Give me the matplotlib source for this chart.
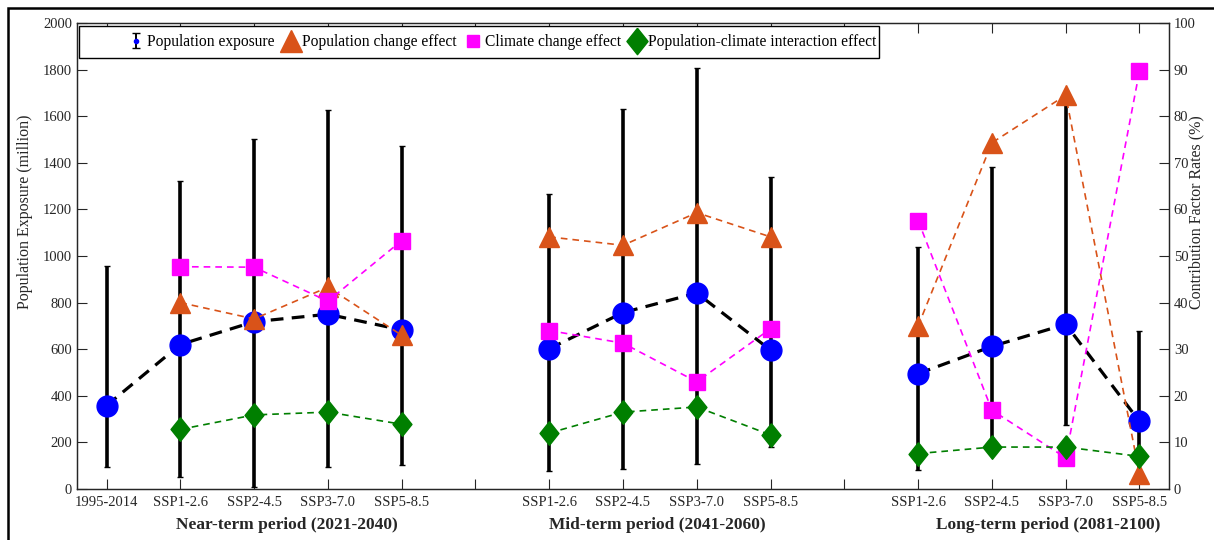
import matplotlib
matplotlib.use('Agg')
import matplotlib.pyplot as plt
import matplotlib.transforms as mtransforms
from matplotlib.lines import Line2D
from matplotlib.patches import Rectangle
import numpy as np

plt.rcParams['font.family'] = ['Liberation Serif', 'DejaVu Serif']

# categories
scenarios = ['SSP1-2.6', 'SSP2-4.5', 'SSP3-7.0', 'SSP5-8.5']
periods = ['Near-term period (2021-2040)', 'Mid-term period (2041-2060)',
           'Long-term period (2081-2100)']
baseline_label = '1995-2014'

# population exposure (million) -> left axis
baseline_exp = 358
baseline_low = 96
baseline_high = 955
exposure = [[620, 718, 750, 683], [602, 757, 841, 596], [495, 612, 707, 290]]
exp_low = [[52, 10, 93, 103], [76, 85, 107, 182], [82, 150, 275, 60]]
exp_high = [[1323, 1501, 1627, 1472], [1268, 1633, 1805, 1338], [1040, 1383, 1672, 676]]

# contribution factor rates (%) -> right axis
pop_effect = [[40, 36.5, 43.3, 33], [54.1, 52.3, 59.3, 54.1], [35, 74.3, 84.5, 3.2]]
clim_effect = [[47.7, 47.6, 40.3, 53.3], [34, 31.3, 23, 34.4], [57.6, 16.9, 6.7, 89.7]]
inter_effect = [[12.8, 15.9, 16.5, 13.9], [12, 16.5, 17.6, 11.6], [7.6, 9, 9, 7]]

c_pop = '#D95319'
c_clim = '#FF00FF'
c_int = '#007F00'
diamond = [(0, 1), (0.8, 0), (0, -1), (-0.8, 0), (0, 1)]

fig = plt.figure(figsize=(12.14, 5.40), dpi=100)
ax = fig.add_axes([77 / 1214, 51 / 540, 1092 / 1214, 466 / 540])
ax2 = ax.twinx()

x_base = 1
x_groups = [np.arange(4) + 2 + 5 * g for g in range(3)]

# baseline error bar
ax.errorbar([x_base], [baseline_exp],
            yerr=[[baseline_exp - baseline_low], [baseline_high - baseline_exp]],
            fmt='none', ecolor='k', elinewidth=2.6, capsize=2, zorder=2)

for g in range(3):
    xs = x_groups[g]
    vals = np.array(exposure[g])
    lo = vals - np.array(exp_low[g])
    hi = np.array(exp_high[g]) - vals
    ax.errorbar(xs, vals, yerr=[lo, hi], fmt='none', ecolor='k',
                elinewidth=2.6, capsize=2, zorder=2)
    if g == 0:
        # near-term line starts from the historical period
        lx = np.concatenate([[x_base], xs])
        ly = np.concatenate([[baseline_exp], vals])
    else:
        lx, ly = xs, vals
    ax.plot(lx, ly, color='k', lw=2.3, ls=(0, (4, 2.6)), zorder=3)
    ax.plot(xs, vals, 'o', ms=15, color='#0000FF', zorder=4)
ax.plot([x_base], [baseline_exp], 'o', ms=15, color='#0000FF', zorder=4)

# right axis series
for g in range(3):
    xs = x_groups[g]
    ax2.plot(xs, pop_effect[g], color=c_pop, lw=1.2, ls=(0, (4, 3)),
             marker='^', ms=15, mec=c_pop, mfc=c_pop)
    ax2.plot(xs, clim_effect[g], color=c_clim, lw=1.2, ls=(0, (4, 3)),
             marker='s', ms=12, mec=c_clim, mfc=c_clim)
    ax2.plot(xs, inter_effect[g], color=c_int, lw=1.2, ls=(0, (4, 3)),
             marker=diamond, ms=17, mec=c_int, mfc=c_int)

# axes
ax.set_xlim(0.6, 15.4)
ax.set_xticks(np.arange(1, 16))
ax.set_xticklabels([baseline_label] + scenarios + [''] + scenarios + [''] + scenarios)
ax.set_ylim(0, 2000)
ax.set_yticks(np.arange(0, 2001, 200))
ax2.set_ylim(0, 100)
ax2.set_yticks(np.arange(0, 101, 10))

axis_col = '#262626'
ax.tick_params(axis='x', direction='in', length=7, top=True, labelsize=10.5,
               colors=axis_col, pad=5)
ax.tick_params(axis='y', direction='in', length=7, right=False, labelsize=10.5,
               colors=axis_col)
ax2.tick_params(axis='y', direction='in', length=7, labelsize=10.5, colors=axis_col)
for a in (ax, ax2):
    for s in a.spines.values():
        s.set_color(axis_col)
        s.set_linewidth(0.9)

ax.set_ylabel('Population Exposure (million)', fontsize=11.5, color=axis_col)
ax2.set_ylabel('Contribution Factor Rates (%)', fontsize=11.5, color=axis_col)
ax.yaxis.set_label_coords(-0.04, 0.595)
ax2.yaxis.set_label_coords(1.0174, 0.595)

trans = mtransforms.blended_transform_factory(ax.transData, ax.transAxes)
label_centers = [3.45, 8.47, 13.76]
for xc, name in zip(label_centers, periods):
    ax.text(xc, -0.078, name, transform=trans, ha='center', va='center',
            fontsize=12.5, fontweight='bold', color=axis_col)

# legend: box drawn by hand, entries placed inside it
ax2.add_patch(Rectangle((0.0018, 0.925), 0.7326, 0.0686, transform=ax2.transAxes,
                        facecolor='white', edgecolor='k', lw=1.0, zorder=4.9,
                        clip_on=False))
eb = ax.errorbar([np.nan], [np.nan], yerr=[1], fmt='.', ms=6, color='#0000FF',
                 ecolor='k', elinewidth=1.4, capsize=3)
h_pop = Line2D([], [], ls='none', marker='^', ms=16, color=c_pop)
h_clim = Line2D([], [], ls='none', marker='s', ms=9, color=c_clim)
h_int = Line2D([], [], ls='none', marker=diamond, ms=19, color=c_int)
leg = ax2.legend([eb, h_pop, h_clim, h_int],
                 ['Population exposure', 'Population change effect',
                  'Climate change effect', 'Population-climate interaction effect'],
                 loc='center left', bbox_to_anchor=((124 - 77) / 1092, (489 - 42) / 466),
                 ncol=4, frameon=False, fontsize=11.2,
                 handlelength=1.5, handletextpad=0.0, columnspacing=0.27,
                 borderpad=0, borderaxespad=0)
leg.set_zorder(5)

# outer frame of the figure
fig.add_artist(Rectangle((8 / 1214, -0.05), 1.2, 1 - 8 / 540 + 0.05,
                         transform=fig.transFigure, fill=False, ec='k', lw=1.8))

fig.savefig('out.png', dpi=100)
